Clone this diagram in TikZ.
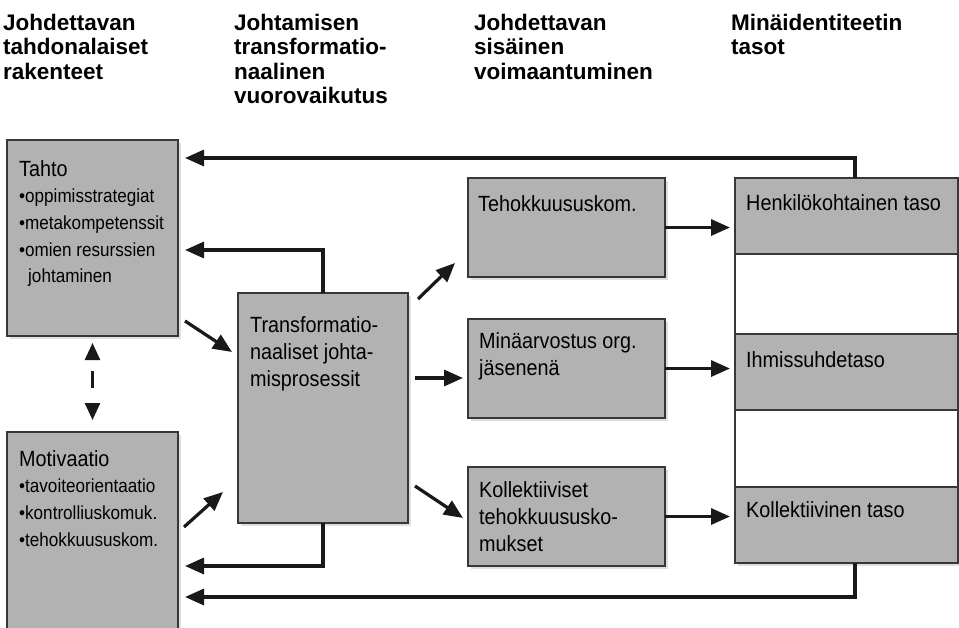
\documentclass[tikz,border=0pt]{standalone}
\usepackage{fontspec}
\setmainfont{Liberation Sans}
\newfontfamily\boxfont{Liberation Sans}[FakeStretch=0.9]
\usepackage{tikz}
\usetikzlibrary{arrows.meta,shapes,positioning,shadows}
\definecolor{dgbox}{RGB}{178,178,178}
\definecolor{dgline}{RGB}{55,55,55}
\definecolor{dgarrow}{RGB}{25,25,25}
\tikzstyle{box} = [draw=dgline, line width=1.2pt, fill=dgbox, anchor=north west, inner sep=0pt, outer sep=0pt, drop shadow={opacity=0.25,shadow xshift=3pt,shadow yshift=-3pt}]
\tikzstyle{head} = [anchor=north west, inner sep=0pt, align=left, font=\bfseries\fontsize{22.5}{24.3}\selectfont]
\tikzstyle{txt} = [anchor=north west, inner sep=0pt, align=left, font=\boxfont\fontsize{22}{27}\selectfont]
\tikzstyle{items} = [anchor=north west, inner sep=0pt, align=left, font=\boxfont\fontsize{19}{26.7}\selectfont]
\tikzstyle{arrow} = [line width=3.2pt, draw=dgarrow, -{Triangle[length=19pt,width=16pt]}]
\tikzstyle{dasharrow} = [line width=2.4pt, draw=dgarrow, {Triangle[length=17pt,width=15pt]}-{Triangle[length=17pt,width=15pt]}, dash pattern=on 0pt off 12pt on 17pt off 40pt]

\begin{document}
\begin{tikzpicture}[x=1pt,y=-1pt]
\path[fill=white,use as bounding box] (0,0) rectangle (959,627);
\clip (0,0) rectangle (959,627);

% Column headings
\node[head] (hwill) at (3,14) {Johdettavan\\tahdonalaiset\\rakenteet};
\node[head] (hlead) at (234,14) {Johtamisen\\transformatio-\\naalinen\\vuorovaikutus};
\node[head] (hpower) at (474,14) {Johdettavan\\sisäinen\\voimaantuminen};
\node[head] (hself) at (731,14) {Minäidentiteetin\\tasot};

% Left boxes
\node[box, minimum width=171pt, minimum height=196pt] (tahto) at (7,140) {};
\node[box, minimum width=171pt, minimum height=220pt] (motiv) at (7,432) {};
\node[items] (tahtotxt) at ([shift={(12,20)}]tahto.north west)
  {{\fontsize{22}{26.7}\selectfont Tahto}\\•oppimisstrategiat\\•metakompetenssit\\•omien resurssien\\\hspace*{9pt}johtaminen};
\node[items] (motivtxt) at ([shift={(12,18)}]motiv.north west)
  {{\fontsize{22}{26.7}\selectfont Motivaatio}\\•tavoiteorientaatio\\•kontrolliuskomuk.\\•tehokkuususkom.};

% Middle box
\node[box, minimum width=170pt, minimum height=230pt] (trans) at (238,293) {};
\node[txt] (transtxt) at ([shift={(12,23)}]trans.north west)
  {Transformatio-\\naaliset johta-\\misprosessit};

% Empowerment boxes
\node[box, minimum width=197pt, minimum height=99pt] (teh) at (468,178) {};
\node[box, minimum width=197pt, minimum height=99pt, below=42pt of teh] (minae) {};
\node[box, minimum width=197pt, minimum height=99pt, below=49pt of minae] (koll) {};
\node[txt] (tehtxt) at ([shift={(10,17)}]teh.north west) {Tehokkuususkom.};
\node[txt] (minaetxt) at ([shift={(11,13)}]minae.north west) {Minäarvostus org.\\jäsenenä};
\node[txt] (kolltxt) at ([shift={(11,14)}]koll.north west) {Kollektiiviset\\tehokkuususko-\\mukset};

% Identity levels
\node[box, minimum width=223pt, minimum height=76pt] (henk) at (735,178) {};
\node[box, fill=white, minimum width=223pt, minimum height=80pt, below=0pt of henk] (gapa) {};
\node[box, minimum width=223pt, minimum height=76pt, below=0pt of gapa] (ihmis) {};
\node[box, fill=white, minimum width=223pt, minimum height=77pt, below=0pt of ihmis] (gapb) {};
\node[box, minimum width=223pt, minimum height=76pt, below=0pt of gapb] (kolltaso) {};
\node[txt] (henktxt) at ([shift={(11,16)}]henk.north west) {Henkilökohtainen taso};
\node[txt] (ihmistxt) at ([shift={(11,17)}]ihmis.north west) {Ihmissuhdetaso};
\node[txt] (kolltasotxt) at ([shift={(11,14)}]kolltaso.north west) {Kollektiivinen taso};

% Forward arrows
\draw[arrow] ([shift={(7,-15)}]tahto.south east) -- ([shift={(-6,59)}]trans.north west);
\draw[arrow] ([shift={(6,95)}]motiv.north east) -- ([shift={(-15,-31)}]trans.south west);
\draw[arrow] ([shift={(10,6)}]trans.north east) -- ([shift={(-13,-14)}]teh.south west);
\draw[arrow] ([shift={(7,85)}]trans.north east) -- ([shift={(-5,9.5)}]minae.west);
\draw[arrow] ([shift={(7,-37)}]trans.south east) -- ([shift={(-5,1.5)}]koll.west);
\draw[arrow, shorten >=5pt] (teh.east) -- (teh.east -| henk.west);
\draw[arrow, shorten >=5pt] (minae.east) -- (minae.east -| ihmis.west);
\draw[arrow, shorten >=5pt] (koll.east) -- (koll.east -| kolltaso.west);

% Feedback arrows
\draw[arrow] ([xshift=120pt]henk.north west) |- ([shift={(7,18)}]tahto.north east);
\draw[arrow] (trans.north) |- ([shift={(7,110)}]tahto.north east);
\draw[arrow] (trans.south) |- ([shift={(7,134)}]motiv.north east);
\draw[arrow] ([xshift=120pt]kolltaso.south west) |- ([shift={(7,165)}]motiv.north east);

% Will and motivation
\draw[dasharrow, shorten <=7pt, shorten >=12pt] (tahto.south) -- (motiv.north);
\end{tikzpicture}
\end{document}
